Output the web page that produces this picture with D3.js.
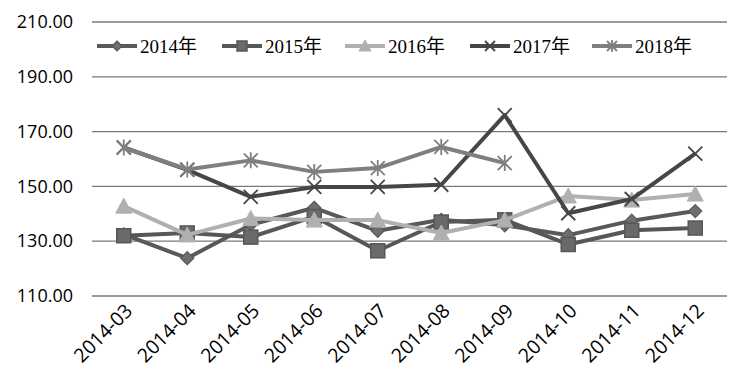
<!DOCTYPE html>
<html>
<head>
<meta charset="utf-8">
<script src="https://cdn.jsdelivr.net/npm/d3@7"></script>
<style>
  body { margin: 0; background: #fff; }
  #chart { width: 735px; height: 380px; }
</style>
</head>
<body>
<div id="chart"></div>
<script>
const months = ['2014-03', '2014-04', '2014-05', '2014-06', '2014-07', '2014-08', '2014-09', '2014-10', '2014-11', '2014-12'];
const yTicks = [110, 130, 150, 170, 190, 210];

const s2014 = [132.5, 123.8, 136.0, 142.2, 133.8, 137.8, 135.8, 132.2, 137.5, 141.0];
const s2015 = [132.0, 133.0, 131.5, 139.0, 126.5, 137.0, 137.8, 128.8, 134.0, 134.8];
const s2016 = [142.8, 132.3, 138.3, 137.7, 137.7, 133.0, 137.7, 146.5, 145.0, 147.2];
const s2017 = [164.2, 156.0, 146.2, 149.8, 149.8, 150.6, 176.0, 140.2, 145.4, 162.0];
const s2018 = [164.2, 156.2, 159.5, 155.3, 156.7, 164.4, 158.5];

const series = [
  { name: '2014年', values: s2014, color: '#595959', marker: 'diamond', mfill: '#6e6e6e' },
  { name: '2015年', values: s2015, color: '#575757', marker: 'square', mfill: '#6a6a6a' },
  { name: '2016年', values: s2016, color: '#b0b0b0', marker: 'triangle', mfill: '#b0b0b0' },
  { name: '2017年', values: s2017, color: '#464646', marker: 'x', mfill: 'none' },
  { name: '2018年', values: s2018, color: '#7f7f7f', marker: 'star', mfill: 'none' }
];

const width = 735, height = 380;
const margin = { top: 22, right: 8, bottom: 84, left: 92 };

const svg = d3.select('#chart').append('svg')
  .attr('width', width)
  .attr('height', height)
  .style('display', 'block');

const x = d3.scaleBand()
  .domain(months)
  .range([margin.left, width - margin.right]);

const y = d3.scaleLinear()
  .domain([110, 210])
  .range([height - margin.bottom, margin.top]);

// gridlines
svg.append('g')
  .selectAll('line')
  .data(yTicks)
  .join('line')
  .attr('x1', margin.left)
  .attr('x2', width - margin.right)
  .attr('y1', d => y(d))
  .attr('y2', d => y(d))
  .attr('stroke', '#7a7a7a')
  .attr('stroke-width', 1.3);

// y axis labels
const yAxis = d3.axisLeft(y).tickValues(yTicks).tickSize(0).tickPadding(0)
  .tickFormat(d3.format('.2f'));
svg.append('g')
  .attr('transform', `translate(${margin.left - 19},0)`)
  .call(yAxis)
  .call(g => g.select('.domain').remove())
  .selectAll('text')
  .attr('font-family', '"Open Sans", sans-serif')
  .attr('font-size', '18px')
  .attr('fill', '#000');

// x axis labels
const xAxis = d3.axisBottom(x).tickSize(0).tickPadding(0);
svg.append('g')
  .attr('transform', `translate(0,${height - margin.bottom})`)
  .call(xAxis)
  .call(g => g.select('.domain').remove())
  .selectAll('text')
  .attr('font-family', '"Open Sans", sans-serif')
  .attr('font-size', '19.5px')
  .attr('fill', '#000')
  .attr('text-anchor', 'end')
  .attr('dy', '0')
  .attr('transform', 'translate(10,16) rotate(-45)');

const line = d3.line()
  .x((d, i) => x(months[i]) + x.bandwidth() / 2)
  .y(d => y(d));

function drawMarker(g, type, color, fill, size) {
  const h = size / 2;
  if (type === 'diamond') {
    g.append('path').attr('d', `M0,${-h}L${h},0L0,${h}L${-h},0Z`)
      .attr('fill', fill).attr('stroke', color).attr('stroke-width', 1.2);
  } else if (type === 'square') {
    g.append('rect').attr('x', -h).attr('y', -h).attr('width', size).attr('height', size)
      .attr('fill', fill).attr('stroke', color).attr('stroke-width', 1.5);
  } else if (type === 'triangle') {
    g.append('path').attr('d', `M0,${-h - 1}L${h + 1},${h}L${-h - 1},${h}Z`)
      .attr('fill', fill).attr('stroke', color).attr('stroke-width', 1);
  } else if (type === 'x') {
    g.append('path').attr('d', `M${-h},${-h}L${h},${h}M${-h},${h}L${h},${-h}`)
      .attr('stroke', color).attr('stroke-width', 1.8);
  } else if (type === 'star') {
    g.append('path').attr('d', `M${-h},${-h}L${h},${h}M${-h},${h}L${h},${-h}M0,${-h - 1}L0,${h + 1}`)
      .attr('stroke', color).attr('stroke-width', 1.8);
  }
}

// lines and markers
series.forEach(s => {
  const g = svg.append('g');
  g.append('path')
    .datum(s.values)
    .attr('d', line)
    .attr('fill', 'none')
    .attr('stroke', s.color)
    .attr('stroke-width', 4)
    .attr('stroke-linejoin', 'round');
  s.values.forEach((v, i) => {
    const m = g.append('g')
      .attr('transform', `translate(${x(months[i]) + x.bandwidth() / 2},${y(v)})`);
    drawMarker(m, s.marker, s.color, s.mfill, s.marker === 'diamond' ? 13 : 14);
  });
});

// legend
const legendX = [97, 222, 345, 470, 592];
const legend = svg.append('g').attr('transform', 'translate(0,46)');
series.forEach((s, i) => {
  const g = legend.append('g').attr('transform', `translate(${legendX[i]},0)`);
  g.append('line')
    .attr('x1', 0).attr('x2', 40)
    .attr('stroke', s.color).attr('stroke-width', 4);
  const m = g.append('g').attr('transform', 'translate(20,0)');
  drawMarker(m, s.marker, s.color, s.mfill, 10);
  g.append('text')
    .attr('x', 43)
    .attr('y', 6.5)
    .attr('font-family', '"Liberation Serif", "Noto Sans CJK SC", serif')
    .attr('font-size', '19px')
    .attr('fill', '#000')
    .text(s.name);
});
</script>
</body>
</html>
